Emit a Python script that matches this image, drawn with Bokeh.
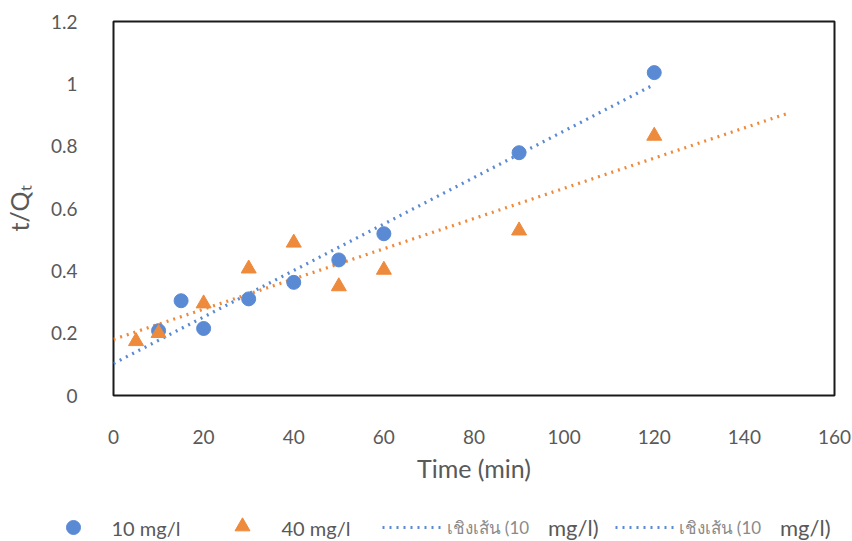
import numpy as np
from bokeh.plotting import figure
from bokeh.layouts import column, row
from bokeh.models import Range1d, FixedTicker
from bokeh.core.properties import value
from bokeh.embed import file_html
from bokeh.resources import INLINE

# t/Qt measurements at two initial concentrations
time_10 = [10, 15, 20, 30, 40, 50, 60, 90, 120]
tq_10 = [0.208, 0.304, 0.215, 0.310, 0.363, 0.435, 0.519, 0.779, 1.036]

time_40 = [5, 10, 20, 30, 40, 50, 60, 90, 120]
tq_40 = [0.174, 0.200, 0.295, 0.407, 0.490, 0.350, 0.403, 0.529, 0.833]

# linear trendline spans (backward / forward forecast)
trend_span_10 = [0, 120]
trend_span_40 = [0, 150]

x_ticks = [0, 20, 40, 60, 80, 100, 120, 140, 160]
y_ticks = [0, 0.2, 0.4, 0.6, 0.8, 1, 1.2]
y_tick_labels = ["0", "0.2", "0.4", "0.6", "0.8", "1", "1.2"]

series_labels = ["10 mg/l", "40 mg/l"]
trend_prefix = ["เชิงเส้น (10", "เชิงเส้น (10"]
trend_suffix = ["mg/l)", "mg/l)"]

BLUE = "#5A8AD4"
ORANGE = "#EE8A3C"
TEXT = "#595959"
LIGHT = "#8a8a8a"
FONT = "Lato"
DOT = dict(line_width=3.2, line_dash="2 5")

p = figure(width=852, height=490, output_backend="svg", toolbar_location=None,
           x_range=Range1d(0, 160), y_range=Range1d(0, 1.2),
           min_border_left=112, min_border_right=18, min_border_top=21,
           min_border_bottom=95)

p.background_fill_color = "white"
p.border_fill_color = "white"
p.outline_line_color = "#1a1a1a"
p.outline_line_width = 2
p.xgrid.visible = False
p.ygrid.visible = False

# least-squares fits drawn as dotted trendlines
def fit_line(xs, ys, span):
    slope, intercept = np.polyfit(xs, ys, 1)
    xx = np.array(span, dtype=float)
    return xx, slope * xx + intercept

fx10, fy10 = fit_line(time_10, tq_10, trend_span_10)
fx40, fy40 = fit_line(time_40, tq_40, trend_span_40)

p.line(fx40, fy40, line_color=ORANGE, **DOT)
p.line(fx10, fy10, line_color=BLUE, **DOT)

p.scatter(time_10, tq_10, marker="circle", size=14, fill_color=BLUE, line_color=BLUE)
p.scatter(time_40, tq_40, marker="triangle", size=15, fill_color=ORANGE, line_color=ORANGE)

for ax in (p.xaxis[0], p.yaxis[0]):
    ax.axis_line_color = None
    ax.major_tick_line_color = None
    ax.minor_tick_line_color = None
    ax.major_label_text_color = TEXT
    ax.major_label_text_font = FONT
    ax.major_label_text_font_size = "19px"
    ax.axis_label_text_color = TEXT
    ax.axis_label_text_font = FONT
    ax.axis_label_text_font_style = "normal"
    ax.axis_label_text_font_size = "25px"

p.xaxis.ticker = FixedTicker(ticks=x_ticks)
p.yaxis.ticker = FixedTicker(ticks=y_ticks)
p.yaxis.major_label_overrides = dict(zip(y_ticks, y_tick_labels))
p.xaxis.major_label_standoff = 28
p.yaxis.major_label_standoff = 30
p.xaxis.axis_label = "Time (min)"
p.yaxis.axis_label = "t/Qₜ"
p.xaxis.axis_label_standoff = 6
p.yaxis.axis_label_standoff = 14

# legend strip underneath the chart, laid out in pixel units
lg = figure(width=852, height=51, output_backend="svg", toolbar_location=None,
            x_range=Range1d(0, 852), y_range=Range1d(0, 51),
            x_axis_type=None, y_axis_type=None,
            min_border=0, outline_line_color=None)
lg.grid.visible = False
lg.background_fill_color = "white"
lg.border_fill_color = "white"

ROW = 14
lg.scatter([73], [ROW], marker="circle", size=14, fill_color=BLUE, line_color=BLUE)
lg.scatter([242], [ROW + 1], marker="triangle", size=15, fill_color=ORANGE, line_color=ORANGE)
lg.text([111, 281], [ROW, ROW], text=series_labels, text_font=value(FONT),
        text_font_size="20px", text_color=TEXT, text_baseline="middle")

for x0, x1, tx, pre, suf in [(382, 440, 446, trend_prefix[0], trend_suffix[0]),
                             (615, 673, 678, trend_prefix[1], trend_suffix[1])]:
    lg.line([x0, x1], [ROW, ROW], line_color=BLUE, **DOT)
    lg.text([tx], [ROW], text=[pre], text_font=value(FONT), text_font_size="17px",
            text_color=LIGHT, text_baseline="middle")
    lg.text([tx + 152], [ROW], text=[suf], text_font=value(FONT), text_font_size="22px",
            text_color=TEXT, text_baseline="middle", text_align="right")

open("out.html", "w").write(file_html(column(p, row(lg), spacing=0), INLINE))
